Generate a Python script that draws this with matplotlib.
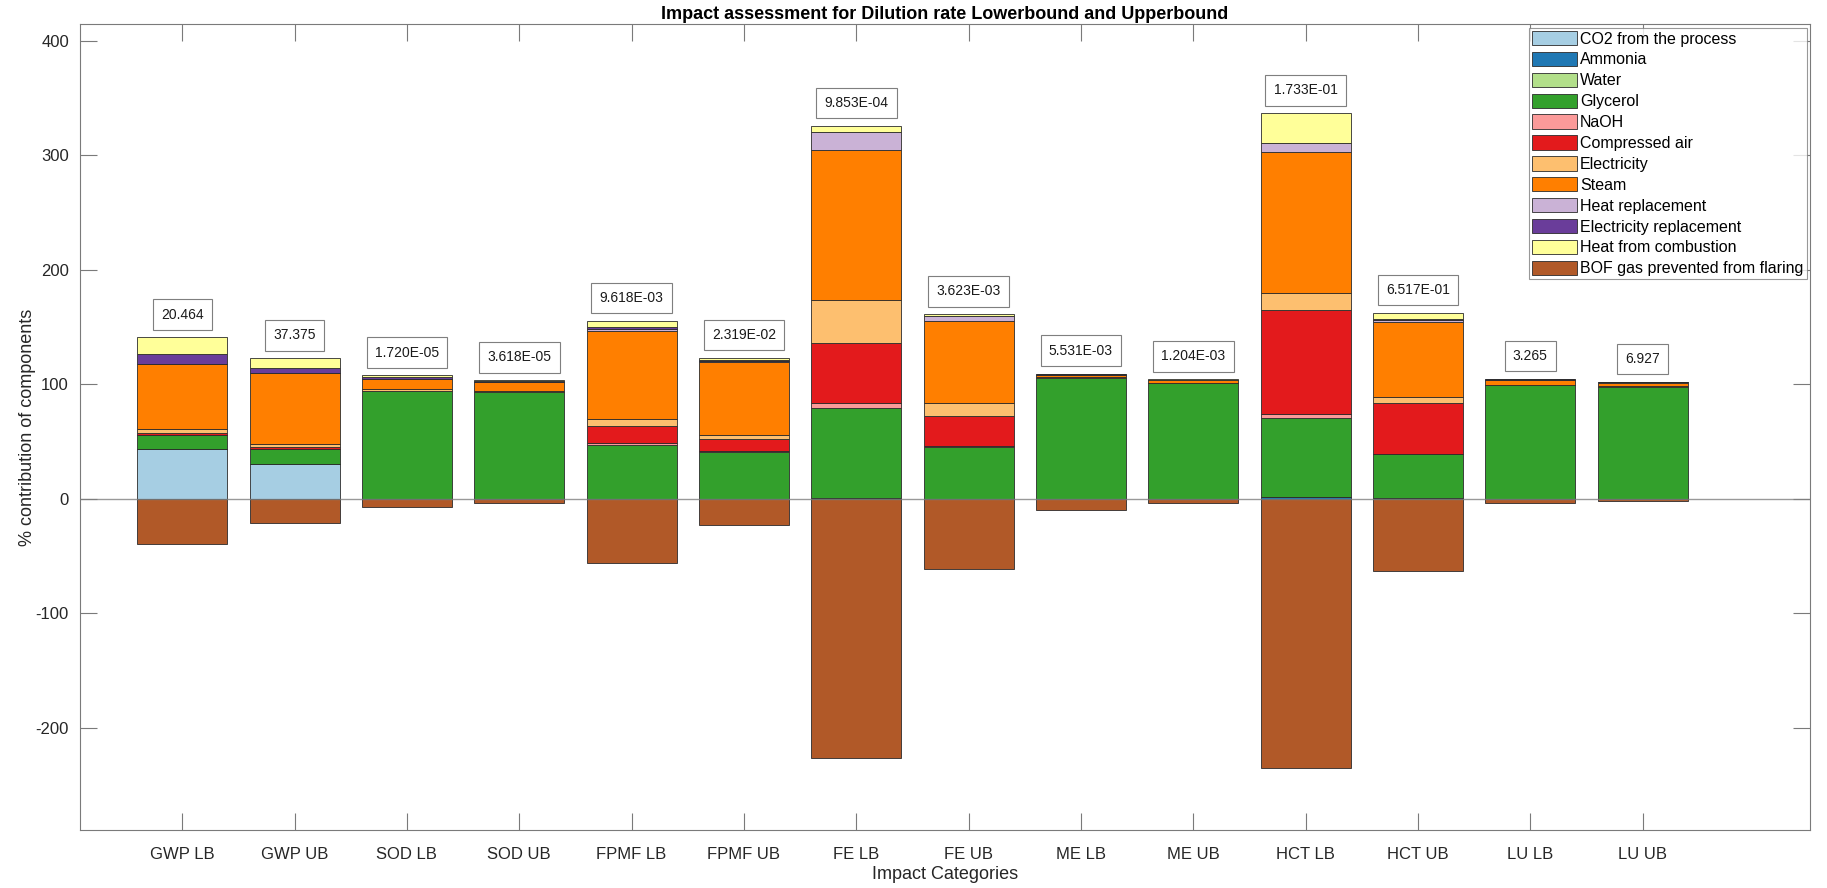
import numpy as np
import matplotlib
matplotlib.use("Agg")
import matplotlib.pyplot as plt

plt.rcParams['font.family'] = ['Liberation Sans', 'DejaVu Sans']
plt.rcParams['axes.unicode_minus'] = False

categories = ["GWP LB", "GWP UB", "SOD LB", "SOD UB", "FPMF LB", "FPMF UB", "FE LB",
              "FE UB", "ME LB", "ME UB", "HCT LB", "HCT UB", "LU LB", "LU UB"]
impact_totals = ["20.464", "37.375", "1.720E-05", "3.618E-05", "9.618E-03", "2.319E-02",
                 "9.853E-04", "3.623E-03", "5.531E-03", "1.204E-03", "1.733E-01",
                 "6.517E-01", "3.265", "6.927"]

components = ["CO2 from the process", "Ammonia", "Water", "Glycerol", "NaOH",
              "Compressed air", "Electricity", "Steam", "Heat replacement",
              "Electricity replacement", "Heat from combustion",
              "BOF gas prevented from flaring"]

# % contribution of each component, one list per component
co2 = [43.1, 30.0, 0, 0, 0, 0, 0, 0, 0, 0, 0, 0, 0, 0]
ammonia = [0.2, 0.2, 0.1, 0.1, 0.2, 0.2, 0.3, 0.2, 0.1, 0.1, 1.2, 0.3, 0.1, 0.1]
water = [0.1, 0.1, 0.1, 0.1, 0.1, 0.1, 0.1, 0.1, 0.1, 0.1, 0.1, 0.1, 0.1, 0.1]
glycerol = [12.2, 13.2, 93.8, 92.7, 46.6, 40.5, 78.5, 45.1, 105.4, 100.8, 68.9, 38.6, 99.1, 97.6]
naoh = [0.5, 0.4, 0.1, 0.1, 1.5, 1.1, 4.4, 0.3, 0.1, 0.1, 3.5, 0.3, 0.1, 0.1]
compressed_air = [1.3, 1.6, 0.4, 0.3, 15.1, 10.5, 52.6, 26.5, 0.2, 0.1, 90.8, 44.5, 0.1, 0.1]
electricity = [3.2, 2.0, 1.0, 0.6, 5.8, 2.9, 37.3, 11.6, 0.4, 0.2, 14.8, 4.7, 0.2, 0.1]
steam = [56.7, 62.0, 9.0, 7.7, 77.1, 64.3, 130.9, 71.6, 1.9, 2.1, 123.4, 65.5, 3.9, 3.2]
heat_replacement = [0.3, 0.3, 0.5, 0.4, 2.2, 0.5, 15.7, 4.2, 0.3, 0.3, 7.8, 2.1, 0.3, 0.3]
elec_replacement = [8.5, 4.6, 1.0, 0.8, 1.6, 1.2, 0.3, 0.2, 0.3, 0.3, 0.2, 0.5, 0.3, 0.3]
heat_combustion = [14.8, 8.2, 1.7, 0.8, 5.2, 1.8, 5.5, 1.4, 0.6, 0.4, 25.8, 5.8, 0.4, 0.3]
bof_gas = [-39.8, -21.5, -7.5, -3.5, -56.0, -23.0, -225.8, -61.1, -9.3, -4.0, -235.0, -63.1, -4.0, -2.0]

series = [co2, ammonia, water, glycerol, naoh, compressed_air, electricity, steam,
          heat_replacement, elec_replacement, heat_combustion, bof_gas]
colors = plt.cm.Paired(np.arange(12))

fig = plt.figure(figsize=(18.27, 8.88), dpi=100)
ax = fig.add_axes([80 / 1827, 58 / 888, 1730 / 1827, 805.5 / 888])

x = np.arange(1, len(categories) + 1)
pos_base = np.zeros(len(categories))
neg_base = np.zeros(len(categories))
for vals, col, name in zip(series, colors, components):
    vals = np.array(vals, dtype=float)
    bottom = np.where(vals >= 0, pos_base, neg_base)
    ax.bar(x, vals, width=0.8, bottom=bottom, color=col, edgecolor="#2b2b2b",
           linewidth=0.6, label=name, zorder=2)
    pos_base += np.clip(vals, 0, None)
    neg_base += np.clip(vals, None, 0)

# total impact value boxed above each bar
for xi, top, txt in zip(x, pos_base, impact_totals):
    ax.text(xi, top + 20, txt, ha="center", va="center", fontsize=10, color="#1a1a1a",
            bbox=dict(boxstyle="square,pad=0.6", facecolor="white", edgecolor="#7f7f7f",
                      linewidth=0.8), zorder=4)

ax.axhline(0, color="#808080", linewidth=1.0, alpha=0.8, zorder=3)

ax.set_xlim(0.09, 15.49)
ax.set_ylim(-289, 414)
ax.set_xticks(x)
ax.set_xticklabels(categories)
ax.set_yticks(np.arange(-200, 401, 100))
ax.tick_params(direction="in", top=True, right=True, length=12, width=0.8,
               color="#7a7a7a", labelsize=12, labelcolor="#262626")
ax.tick_params(axis="x", pad=12)
ax.tick_params(axis="y", pad=8)
for sp in ax.spines.values():
    sp.set_color("#7a7a7a")
    sp.set_linewidth(0.8)

ax.set_title("Impact assessment for Dilution rate Lowerbound and Upperbound",
             fontsize=13, fontweight="bold", pad=4)
ax.set_xlabel("Impact Categories", fontsize=13, color="#262626", labelpad=3)
ax.set_ylabel("% contribution of components", fontsize=13, color="#262626", labelpad=0)

leg = ax.legend(loc="upper right", fontsize=11.5, frameon=True, fancybox=False,
                edgecolor="#7f7f7f", borderaxespad=0.2, borderpad=0.2,
                labelspacing=0.33, handlelength=2.8, handleheight=1.0,
                handletextpad=0.2)
leg.get_frame().set_linewidth(0.8)

fig.savefig("out.png", dpi=100)
